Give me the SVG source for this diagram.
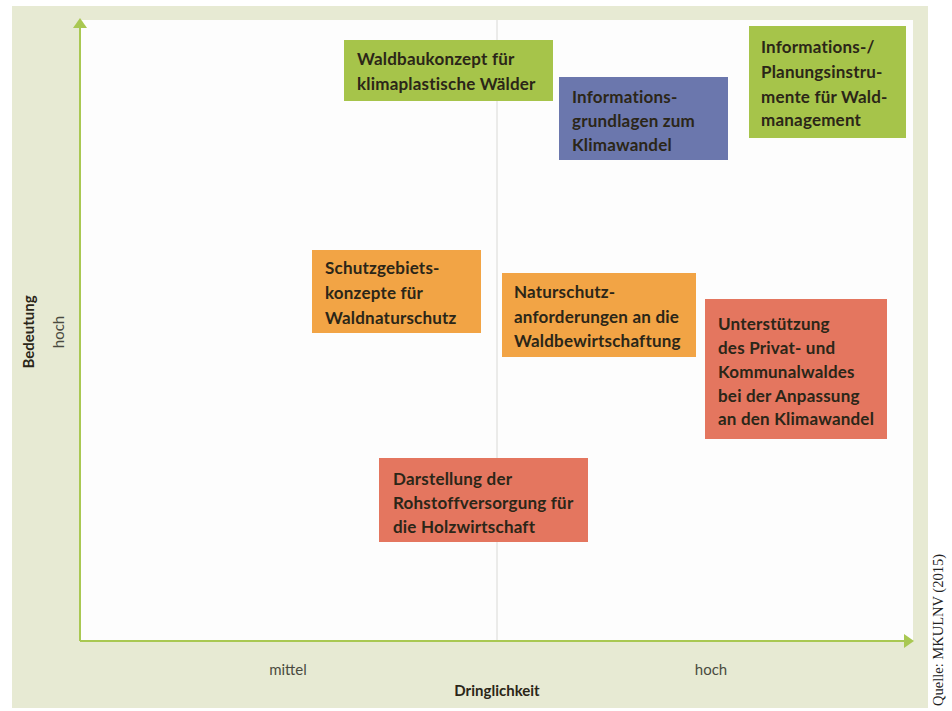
<svg xmlns="http://www.w3.org/2000/svg" width="952" height="711" viewBox="0 0 952 711">
<style>
.lbl{font-family:Lato,"Liberation Sans",sans-serif;font-weight:700;font-size:17px;letter-spacing:0.2px;fill:#2b2618}
.ax{font-family:Lato,"Liberation Sans",sans-serif;font-size:15px;fill:#4a4a40}
.axb{font-family:Lato,"Liberation Sans",sans-serif;font-weight:700;font-size:15px;fill:#2b2618}
.green{fill:#a6c44a}
.blue{fill:#6b77ad}
.orange{fill:#f2a445}
.red{fill:#e4765f}
.axis{stroke:#a9c852;stroke-width:2;fill:none}
</style>
<rect x="0" y="0" width="952" height="711" fill="#ffffff"/>
<rect x="12" y="6" width="916" height="702" fill="#e7ead3"/>
<rect x="81" y="20" width="832" height="622" fill="#fdfdfd"/>
<g id="connectors">
<line x1="497" y1="20" x2="497" y2="641" stroke="#d9d9d6" stroke-width="1"/>
<line class="axis" x1="80" y1="641" x2="80" y2="26"/>
<polygon points="80,18 73,28 87,28" fill="#a9c852"/>
<line class="axis" x1="80" y1="641" x2="905" y2="641"/>
<polygon points="914,641 904,634 904,648" fill="#a9c852"/>
</g>
<g id="n1">
<rect class="green" x="344" y="40" width="209" height="61"/>
<text class="lbl" x="357" y="65">Waldbaukonzept für</text>
<text class="lbl" x="357" y="90">klimaplastische Wälder</text>
</g>
<g id="n2">
<rect class="blue" x="559" y="77" width="169" height="83"/>
<text class="lbl" x="572" y="103">Informations-</text>
<text class="lbl" x="572" y="127">grundlagen zum</text>
<text class="lbl" x="572" y="151">Klimawandel</text>
</g>
<g id="n3">
<rect class="green" x="749" y="26" width="157" height="112"/>
<text class="lbl" x="761" y="53">Informations-/</text>
<text class="lbl" x="761" y="78">Planungsinstru-</text>
<text class="lbl" x="761" y="103">mente für Wald-</text>
<text class="lbl" x="761" y="126">management</text>
</g>
<g id="n4">
<rect class="orange" x="312" y="250" width="169" height="83"/>
<text class="lbl" x="325" y="274">Schutzgebiets-</text>
<text class="lbl" x="325" y="299">konzepte für</text>
<text class="lbl" x="325" y="324">Waldnaturschutz</text>
</g>
<g id="n5">
<rect class="orange" x="502" y="273" width="194" height="84"/>
<text class="lbl" x="514" y="298">Naturschutz-</text>
<text class="lbl" x="514" y="323">anforderungen an die</text>
<text class="lbl" x="514" y="347">Waldbewirtschaftung</text>
</g>
<g id="n6">
<rect class="red" x="705" y="299" width="182" height="140"/>
<text class="lbl" x="718" y="330">Unterstützung</text>
<text class="lbl" x="718" y="354">des Privat- und</text>
<text class="lbl" x="718" y="378">Kommunalwaldes</text>
<text class="lbl" x="718" y="402">bei der Anpassung</text>
<text class="lbl" x="718" y="425">an den Klimawandel</text>
</g>
<g id="n7">
<rect class="red" x="379" y="458" width="209" height="84"/>
<text class="lbl" x="393" y="485">Darstellung der</text>
<text class="lbl" x="393" y="509">Rohstoffversorgung für</text>
<text class="lbl" x="393" y="533">die Holzwirtschaft</text>
</g>
<g id="labels">
<text class="ax" x="288" y="675" text-anchor="middle">mittel</text>
<text class="ax" x="711" y="675" text-anchor="middle">hoch</text>
<text class="axb" x="497" y="696" text-anchor="middle">Dringlichkeit</text>
<text class="axb" transform="translate(34,332) rotate(-90)" text-anchor="middle">Bedeutung</text>
<text class="ax" transform="translate(64,332) rotate(-90)" text-anchor="middle">hoch</text>
<text transform="translate(943,630) rotate(-90)" text-anchor="middle" font-family="'Liberation Serif',serif" font-size="14.5" fill="#222">Quelle: MKULNV (2015)</text>
</g>
</svg>
